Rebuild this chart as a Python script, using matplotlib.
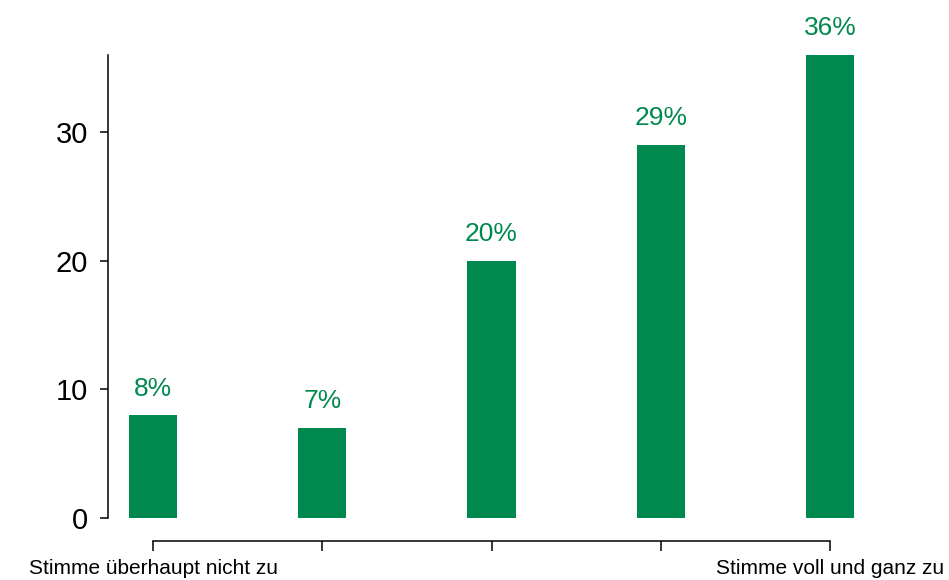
import matplotlib.pyplot as plt
import numpy as np

plt.rcParams['font.family'] = ['Liberation Sans', 'DejaVu Sans']

# data
categories = ["Stimme überhaupt nicht zu", "", "", "", "Stimme voll und ganz zu"]
values = [8, 7, 20, 29, 36]
yticks = [0, 10, 20, 30]
green = '#00894f'

fig = plt.figure(figsize=(9.49, 5.8), dpi=100)
ax = fig.add_axes([108 / 949, 62 / 580, (875 - 108) / 949, (518 - 55) / 580])

x = np.arange(len(values))
bars = ax.bar(x, values, width=0.285, color=green)
for xi, v in zip(x, values):
    ax.annotate(f"{v}%", (xi, v), xytext=(0, 10.5), textcoords='offset points',
                ha='center', va='bottom', fontsize=19, color=green)

ax.set_xlim(-0.266, len(values) - 1 + 0.266)
ax.set_ylim(0, max(values))
ax.set_yticks(yticks)
ax.set_xticks(x)
ax.set_xticklabels(categories)

for s in ['top', 'right']:
    ax.spines[s].set_visible(False)
ax.spines['bottom'].set_position(('outward', 16.5))
ax.spines['bottom'].set_bounds(0, len(values) - 1)
ax.spines['left'].set_linewidth(1.1)
ax.spines['bottom'].set_linewidth(1.1)
ax.tick_params(axis='y', length=5.5, width=1.1, pad=9, labelsize=21)
ax.tick_params(axis='x', length=7, width=1.1, pad=6, labelsize=15)

fig.savefig('out.png', dpi=100)
